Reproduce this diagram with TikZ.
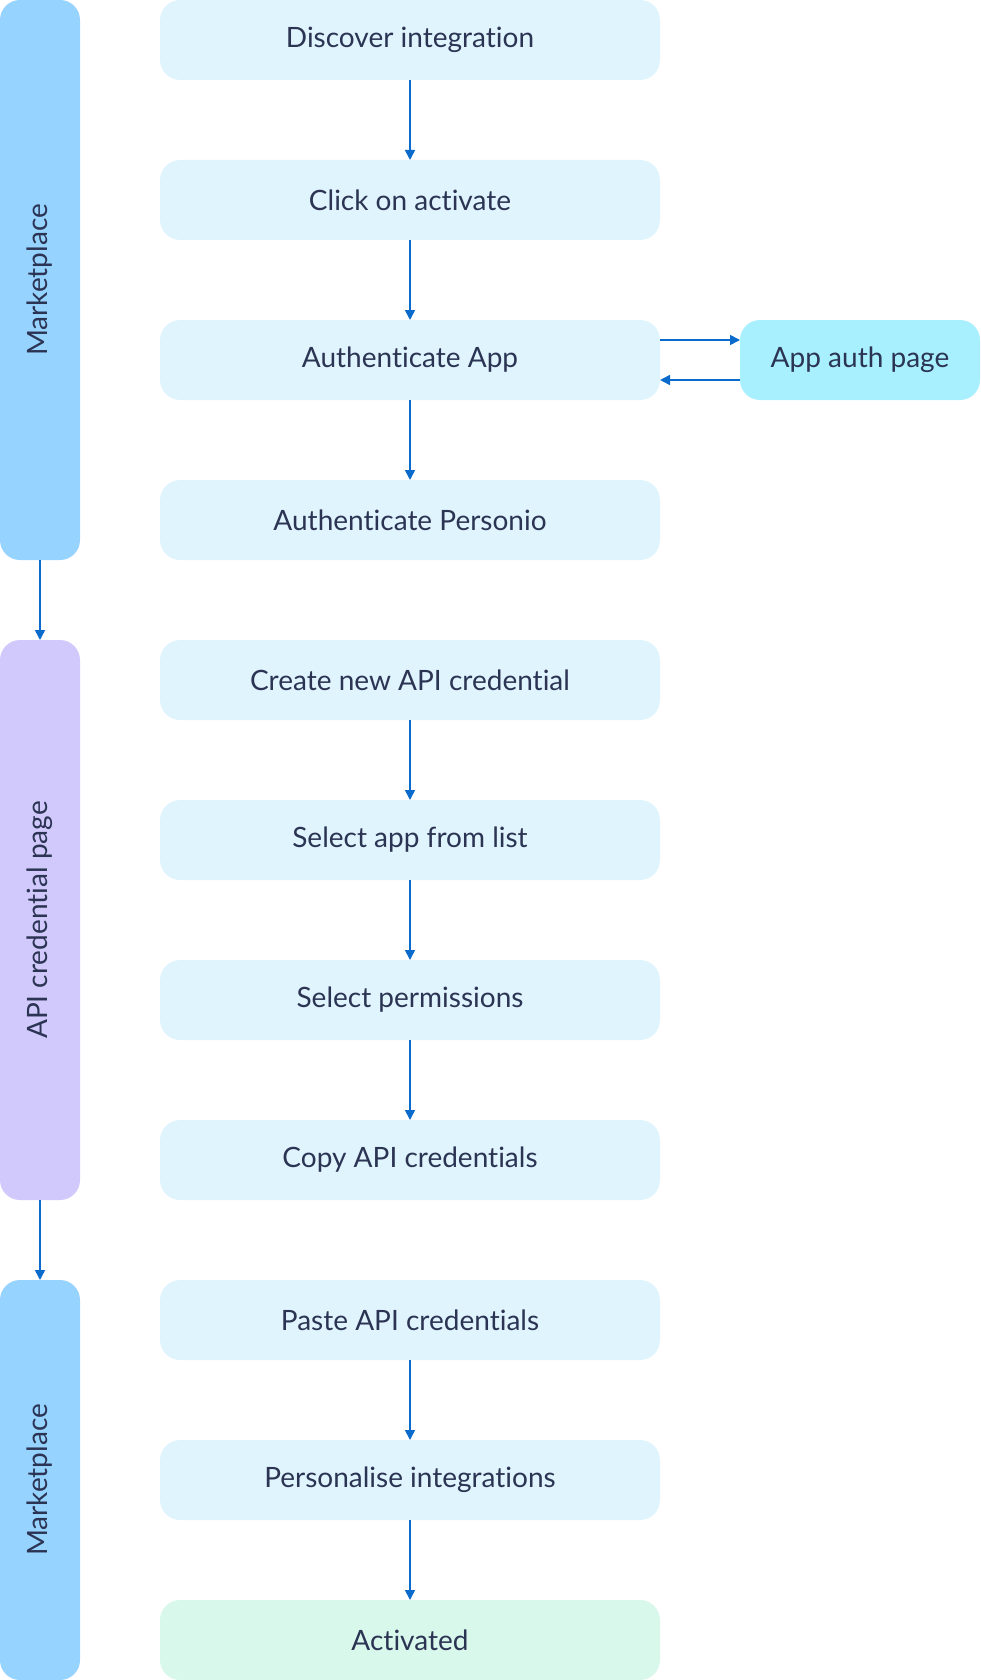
\documentclass[tikz,border=0pt]{standalone}
\usepackage{fontspec}
\setmainfont{Lato}[Ligatures=NoCommon]
\usepackage{graphicx}
\usetikzlibrary{arrows.meta,positioning}
\definecolor{laneblue}{HTML}{96D3FF}
\definecolor{lanepurple}{HTML}{D1C9FC}
\definecolor{stepfill}{HTML}{E0F4FE}
\definecolor{authfill}{HTML}{A8F0FD}
\definecolor{donefill}{HTML}{D9F8EC}
\definecolor{flowline}{HTML}{0A6BCB}
\definecolor{inktext}{HTML}{2B3453}
\tikzstyle{stepbox} = [rectangle, fill=stepfill, rounded corners=20pt,
    minimum width=500pt, minimum height=80pt, inner sep=0pt, outer sep=0pt,
    text=inktext, font=\fontsize{28}{32}\selectfont]
\tikzstyle{lanebox} = [rectangle, fill=laneblue, rounded corners=20pt,
    minimum width=80pt, inner sep=0pt, outer sep=0pt,
    text=inktext, font=\fontsize{28}{32}\selectfont]

\begin{document}
\begin{tikzpicture}[x=1pt,y=1pt,->,>={Triangle[length=10pt,width=10pt]},
                    line width=1.6pt,draw=flowline,node distance=80pt]
  \useasboundingbox (0,0) rectangle (980,-1680);
  % lanes
  \node[lanebox,minimum height=560pt]                (m1) at (40,-280)  {\rotatebox{90}{Marketplace}};
  \node[lanebox,fill=lanepurple,minimum height=560pt] (ap) [below=80pt of m1] {\rotatebox{90}{API credential page}};
  \node[lanebox,minimum height=400pt]                (m2) [below=80pt of ap] {\rotatebox{90}{Marketplace}};
  % steps
  \node[stepbox]  (s1) at (410,-40)   {Discover integration};
  \node[stepbox]  (s2) [below=of s1]  {Click on activate};
  \node[stepbox]  (s3) [below=of s2]  {Authenticate App};
  \node[stepbox]  (s4) [below=of s3]  {Authenticate Personio};
  \node[stepbox]  (s5) [below=of s4]  {Create new API credential};
  \node[stepbox]  (s6) [below=of s5]  {Select app from list};
  \node[stepbox]  (s7) [below=of s6]  {Select permissions};
  \node[stepbox]  (s8) [below=of s7]  {Copy API credentials};
  \node[stepbox]  (s9) [below=of s8]  {Paste API credentials};
  \node[stepbox]  (s10) [below=of s9] {Personalise integrations};
  \node[stepbox,fill=donefill] (s11) [below=of s10] {Activated};
  \node[stepbox,fill=authfill,minimum width=240pt] (au) at (860,-360) {App auth page};

  \path (m1) edge (ap)
  (ap) edge (m2)
  (s1) edge (s2)
  (s2) edge (s3)
  (s3) edge (s4)
  (s5) edge (s6)
  (s6) edge (s7)
  (s7) edge (s8)
  (s9) edge (s10)
  (s10) edge (s11)
  ([yshift=20pt]s3.east) edge ([yshift=20pt]au.west)
  ([yshift=-20pt]au.west) edge ([yshift=-20pt]s3.east);
\end{tikzpicture}
\end{document}
